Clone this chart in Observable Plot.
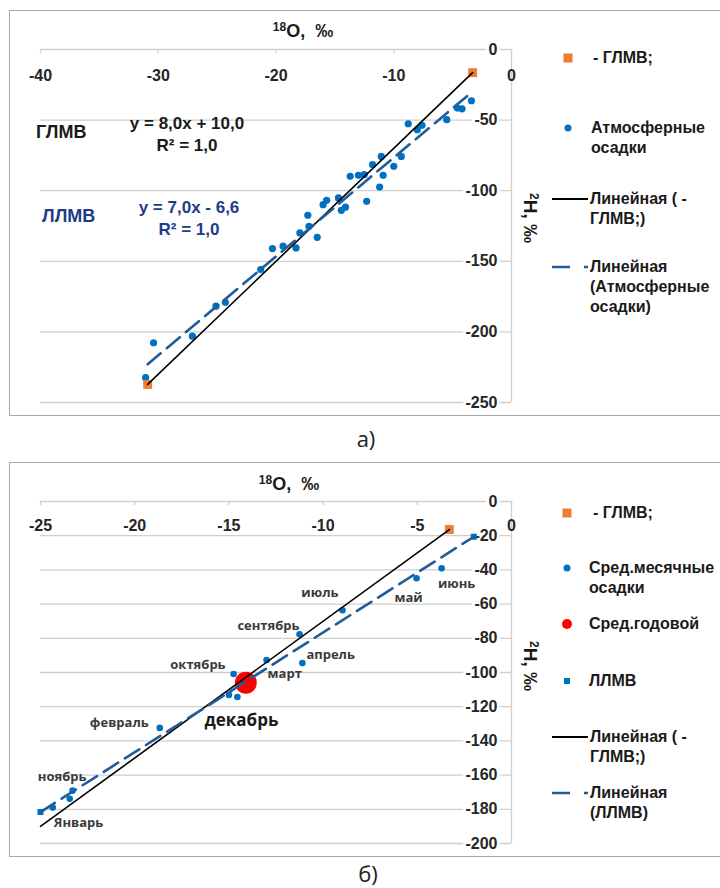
<!DOCTYPE html>
<html><head><meta charset="utf-8">
<script src="https://cdn.jsdelivr.net/npm/d3@7"></script>
<script src="https://cdn.jsdelivr.net/npm/@observablehq/plot@0.6"></script>
<style>
html,body{margin:0;padding:0;background:#fff;}
#root{position:relative;width:720px;height:888px;overflow:hidden;font-family:"Liberation Sans",Arial,sans-serif;color:#1a1a1a;}
.frame{position:absolute;border:1px solid #a9a9a9;box-sizing:border-box;}
.abs{position:absolute;white-space:nowrap;}
.leg{position:absolute;font-weight:bold;font-size:16px;line-height:20px;white-space:nowrap;color:#1a1a1a;}
.eq{position:absolute;font-weight:bold;font-size:17px;white-space:nowrap;text-align:center;line-height:22px;}
.xt{position:absolute;font-weight:bold;font-size:18px;white-space:nowrap;transform:translate(-50%,-50%);}
.xt sup,.yt sup{font-size:12px;vertical-align:6px;}
.yt{position:absolute;font-weight:bold;font-size:19px;white-space:nowrap;transform:translate(-50%,-50%) rotate(90deg);}
.cap{position:absolute;font-family:"Open Sans",sans-serif;font-size:22px;color:#222;transform:translate(-50%,-50%);}
svg.sw{position:absolute;overflow:visible;}
</style>
</head><body><div id="root"></div>
<script>
// ---------- Panel а) data ----------
const xTicksA = [-40, -30, -20, -10, 0];
const yTicksA = [0, -50, -100, -150, -200, -250];
// ГЛМВ points (δ18O, δ2H)
const gmwlA_d18O = [-30.9, -3.3];
const gmwlA_d2H  = [-237.2, -16.4];
// Атмосферные осадки
const precipA_d18O = [-31.07, -30.4, -27.1, -25.1, -24.3, -21.3, -20.3, -19.4, -18.3, -17.97,
  -17.2, -17.3, -16.5, -16.0, -15.7, -14.7, -14.45, -14.1, -13.7, -13.0,
  -12.5, -12.3, -11.8, -11.2, -11.06, -10.9, -10.0, -9.36, -8.77, -8.0,
  -7.6, -5.5, -4.6, -4.2, -3.4];
const precipA_d2H = [-232.4, -207.7, -203.0, -181.8, -179.0, -155.8, -141.0, -139.3, -140.5, -129.9,
  -125.2, -117.4, -133.0, -109.9, -106.8, -105.1, -113.9, -111.7, -89.8, -89.1,
  -88.6, -107.5, -81.5, -97.4, -75.7, -89.1, -82.7, -75.7, -52.6, -56.8,
  -53.7, -49.7, -41.5, -42.0, -36.3];
// Linear trend of precipitation (ЛЛМВ), endpoints
const lmwlA_d18O = [-30.9, -3.4];
const lmwlA_d2H  = [-222.9, -30.4];

// ---------- Panel б) data ----------
const xTicksB = [-25, -20, -15, -10, -5, 0];
const yTicksB = [0, -20, -40, -60, -80, -100, -120, -140, -160, -180, -200];
const gmwlB_d18O = [-3.3];
const gmwlB_d2H  = [-16.4];
const gmwlLineB_d18O = [-25, -3.3];
const gmwlLineB_d2H  = [-190, -16.4];
const llmvB_d18O = [-25, -2.0];
const llmvB_d2H  = [-181.6, -20.6];
const monthD18O = [-24.35, -23.45, -23.3, -18.67, -15.0, -14.55, -14.75, -13.0, -11.1, -11.25, -8.97, -5.04, -3.71];
const monthD2H  = [-179.0, -173.8, -169.1, -132.4, -113.1, -114.3, -100.9, -92.7, -94.5, -77.6, -63.6, -44.9, -39.1];
const monthNames = ["Январь", "", "ноябрь", "февраль", "", "декабрь", "октябрь", "март", "апрель", "сентябрь", "июль", "май", "июнь"];
const annualD18O = [-14.1];
const annualD2H  = [-106];

// ---------- layout (label offsets in px) ----------
const monthLabelLayout = [
  {i: 0, dx: 1, dy: 15, anchor: "start"},
  {i: 2, dx: 14, dy: -14, anchor: "end"},
  {i: 3, dx: -11, dy: -5, anchor: "end"},
  {i: 5, dx: 4, dy: 24, anchor: "middle", big: true},
  {i: 6, dx: -8, dy: -9, anchor: "end"},
  {i: 7, dx: 1, dy: 14, anchor: "start"},
  {i: 8, dx: 4, dy: -8, anchor: "start"},
  {i: 9, dx: 0, dy: -8, anchor: "end"},
  {i: 10, dx: -4, dy: -17, anchor: "end"},
  {i: 11, dx: -8, dy: 20, anchor: "middle"},
  {i: 12, dx: 15, dy: 15, anchor: "middle"}
];

const BLUE = "#0070c0", ORANGE = "#ed7d31", DASH = "#1f5c99", GRID = "#cfcfcf";
const FONT = "'Liberation Sans', Arial, sans-serif";
const root = document.getElementById("root");
const idx = a => a.map((_, i) => i);

function axesMarks(xTicks, yTicks, xdy) {
  return [
    Plot.gridY(yTicks, {stroke: GRID, strokeOpacity: 1, strokeWidth: 1.3}),
    Plot.ruleX([0], {stroke: GRID, strokeWidth: 1.3}),
    Plot.ruleX(xTicks, {x: d => d, y1: () => 0, y2: () => 0, insetBottom: -4, stroke: GRID, strokeWidth: 1.3}),
    Plot.text(yTicks, {y: d => d, text: d => String(d), frameAnchor: "right", dx: -14, textAnchor: "end",
      fontWeight: "bold", fontSize: 16, fill: "#262626", stroke: "white", strokeWidth: 6, paintOrder: "stroke"}),
    Plot.text(xTicks, {x: d => d, text: d => String(d), frameAnchor: "top", dy: xdy, textAnchor: "middle",
      fontWeight: "bold", fontSize: 16, fill: "#262626"})
  ];
}

// ---------- Panel а) ----------
const plotA = Plot.plot({
  width: 720, height: 415, marginTop: 49, marginBottom: 13, marginLeft: 40, marginRight: 209,
  x: {domain: [-40, 0], axis: null},
  y: {domain: [-250, 0], axis: null},
  style: {fontFamily: FONT, background: "transparent", overflow: "visible"},
  marks: [
    ...axesMarks(xTicksA, yTicksA, 20),
    Plot.dot(idx(precipA_d18O), {x: i => precipA_d18O[i], y: i => precipA_d2H[i], r: 3.6, fill: BLUE}),
    Plot.dot(idx(gmwlA_d18O), {x: i => gmwlA_d18O[i], y: i => gmwlA_d2H[i], symbol: "square", r: 5, fill: ORANGE}),
    Plot.line(idx(gmwlA_d18O), {x: i => gmwlA_d18O[i], y: i => gmwlA_d2H[i], stroke: "black", strokeWidth: 1.6}),
    Plot.line(idx(lmwlA_d18O), {x: i => lmwlA_d18O[i], y: i => lmwlA_d2H[i], stroke: DASH, strokeWidth: 2.6, strokeDasharray: "17,8"})
  ]
});
plotA.style.position = "absolute"; plotA.style.left = "0px"; plotA.style.top = "0px";

// ---------- Panel б) ----------
const plotB = Plot.plot({
  width: 720, height: 400, marginTop: 41, marginBottom: 17, marginLeft: 40, marginRight: 209,
  x: {domain: [-25, 0], axis: null},
  y: {domain: [-200, 0], axis: null},
  style: {fontFamily: FONT, background: "transparent", overflow: "visible"},
  marks: [
    ...axesMarks(xTicksB, yTicksB, 18),
    Plot.dot(idx(annualD18O), {x: i => annualD18O[i], y: i => annualD2H[i], r: 11, fill: "#ff0000"}),
    Plot.dot(idx(monthD18O), {x: i => monthD18O[i], y: i => monthD2H[i], r: 3.3, fill: BLUE}),
    Plot.dot(idx(gmwlB_d18O), {x: i => gmwlB_d18O[i], y: i => gmwlB_d2H[i], symbol: "square", r: 5, fill: ORANGE}),
    Plot.dot(idx(llmvB_d18O), {x: i => llmvB_d18O[i], y: i => llmvB_d2H[i], symbol: "square", r: 3.4, fill: BLUE}),
    Plot.line(idx(gmwlLineB_d18O), {x: i => gmwlLineB_d18O[i], y: i => gmwlLineB_d2H[i], stroke: "black", strokeWidth: 1.6}),
    Plot.line(idx(llmvB_d18O), {x: i => llmvB_d18O[i], y: i => llmvB_d2H[i], stroke: DASH, strokeWidth: 2.6, strokeDasharray: "17,8"}),
    ...monthLabelLayout.map(l => Plot.text([l.i], {
      x: i => monthD18O[i], y: i => monthD2H[i], text: i => monthNames[i],
      dx: l.dx, dy: l.dy, textAnchor: l.anchor,
      fontFamily: "'Open Sans', sans-serif", fontWeight: "bold",
      fontSize: l.big ? 17 : 13, fill: l.big ? "#1a1a1a" : "#3a3a3a"
    }))
  ]
});
plotB.style.position = "absolute"; plotB.style.left = "0px"; plotB.style.top = "460px";

// ---------- frames ----------
function frame(l, t, w, h) {
  const d = document.createElement("div");
  d.className = "frame";
  Object.assign(d.style, {left: l + "px", top: t + "px", width: w + "px", height: h + "px"});
  root.append(d);
}
frame(9, 10, 712, 406);
frame(9, 462, 712, 395);
root.append(plotA, plotB);

function html(cls, css, inner) {
  const d = document.createElement("div");
  d.className = cls;
  Object.assign(d.style, css);
  d.innerHTML = inner;
  root.append(d);
  return d;
}
const SVGNS = "http://www.w3.org/2000/svg";
function swatch(kind, cx, cy) {
  const s = document.createElementNS(SVGNS, "svg");
  s.setAttribute("class", "sw");
  s.setAttribute("width", 40); s.setAttribute("height", 20);
  s.style.left = (cx - 20) + "px"; s.style.top = (cy - 10) + "px";
  let el;
  if (kind === "sqOrange" || kind === "sqBlue") {
    const w = kind === "sqOrange" ? 9 : 6;
    el = document.createElementNS(SVGNS, "rect");
    el.setAttribute("x", 20 - w / 2); el.setAttribute("y", 10 - w / 2);
    el.setAttribute("width", w); el.setAttribute("height", w);
    el.setAttribute("fill", kind === "sqOrange" ? ORANGE : BLUE);
  } else if (kind === "dotBlue" || kind === "dotRed") {
    el = document.createElementNS(SVGNS, "circle");
    el.setAttribute("cx", 20); el.setAttribute("cy", 10);
    el.setAttribute("r", kind === "dotBlue" ? 3.5 : 5);
    el.setAttribute("fill", kind === "dotBlue" ? BLUE : "#ff0000");
  } else {
    el = document.createElementNS(SVGNS, "line");
    el.setAttribute("x1", 2); el.setAttribute("x2", 38);
    el.setAttribute("y1", 10); el.setAttribute("y2", 10);
    if (kind === "solid") { el.setAttribute("stroke", "black"); el.setAttribute("stroke-width", 1.8); }
    else { el.setAttribute("stroke", DASH); el.setAttribute("stroke-width", 2.6); el.setAttribute("stroke-dasharray", "18,14"); }
  }
  s.append(el);
  root.append(s);
}
function legendItem(kind, cx, cy, textLeft, text) {
  swatch(kind, cx, cy);
  html("leg", {left: textLeft + "px", top: (cy - 10) + "px"}, text);
}

// legend а)
legendItem("sqOrange", 568, 58, 593, "- ГЛМВ;");
legendItem("dotBlue", 568, 128, 591, "Атмосферные<br>осадки");
legendItem("solid", 570, 199, 590, "Линейная ( -<br>ГЛМВ;)");
legendItem("dash", 570, 267, 590, "Линейная<br>(Атмосферные<br>осадки)");
// legend б)
legendItem("sqOrange", 567, 513, 593, "- ГЛМВ;");
legendItem("dotBlue", 567, 568, 589, "Сред.месячные<br>осадки");
legendItem("dotRed", 567, 624, 589, "Сред.годовой");
legendItem("sqBlue", 567, 681, 589, "ЛЛМВ");
legendItem("solid", 570, 737, 590, "Линейная ( -<br>ГЛМВ;)");
legendItem("dash", 570, 793, 590, "Линейная<br>(ЛЛМВ)");

// axis titles
html("xt", {left: "303px", top: "31px"}, "<sup>18</sup>O,&nbsp; ‰");
html("xt", {left: "289px", top: "484px"}, "<sup>18</sup>O,&nbsp; ‰");
html("yt", {left: "530px", top: "218px"}, "<sup>2</sup>H, ‰");
html("yt", {left: "530px", top: "666px"}, "<sup>2</sup>H, ‰");

// regression annotations (panel а)
html("eq", {left: "36px", top: "121px", fontSize: "18px"}, "ГЛМВ");
html("eq", {left: "112px", top: "113px", width: "150px"}, "y = 8,0x + 10,0<br>R² = 1,0");
html("eq", {left: "42px", top: "205px", fontSize: "18px", color: "#1f3c88"}, "ЛЛМВ");
html("eq", {left: "114px", top: "197px", width: "150px", color: "#1f3c88"}, "y = 7,0x - 6,6<br>R² = 1,0");

// captions
html("cap", {left: "366px", top: "438px"}, "а)");
html("cap", {left: "368px", top: "873px"}, "б)");
</script>
</body></html>
